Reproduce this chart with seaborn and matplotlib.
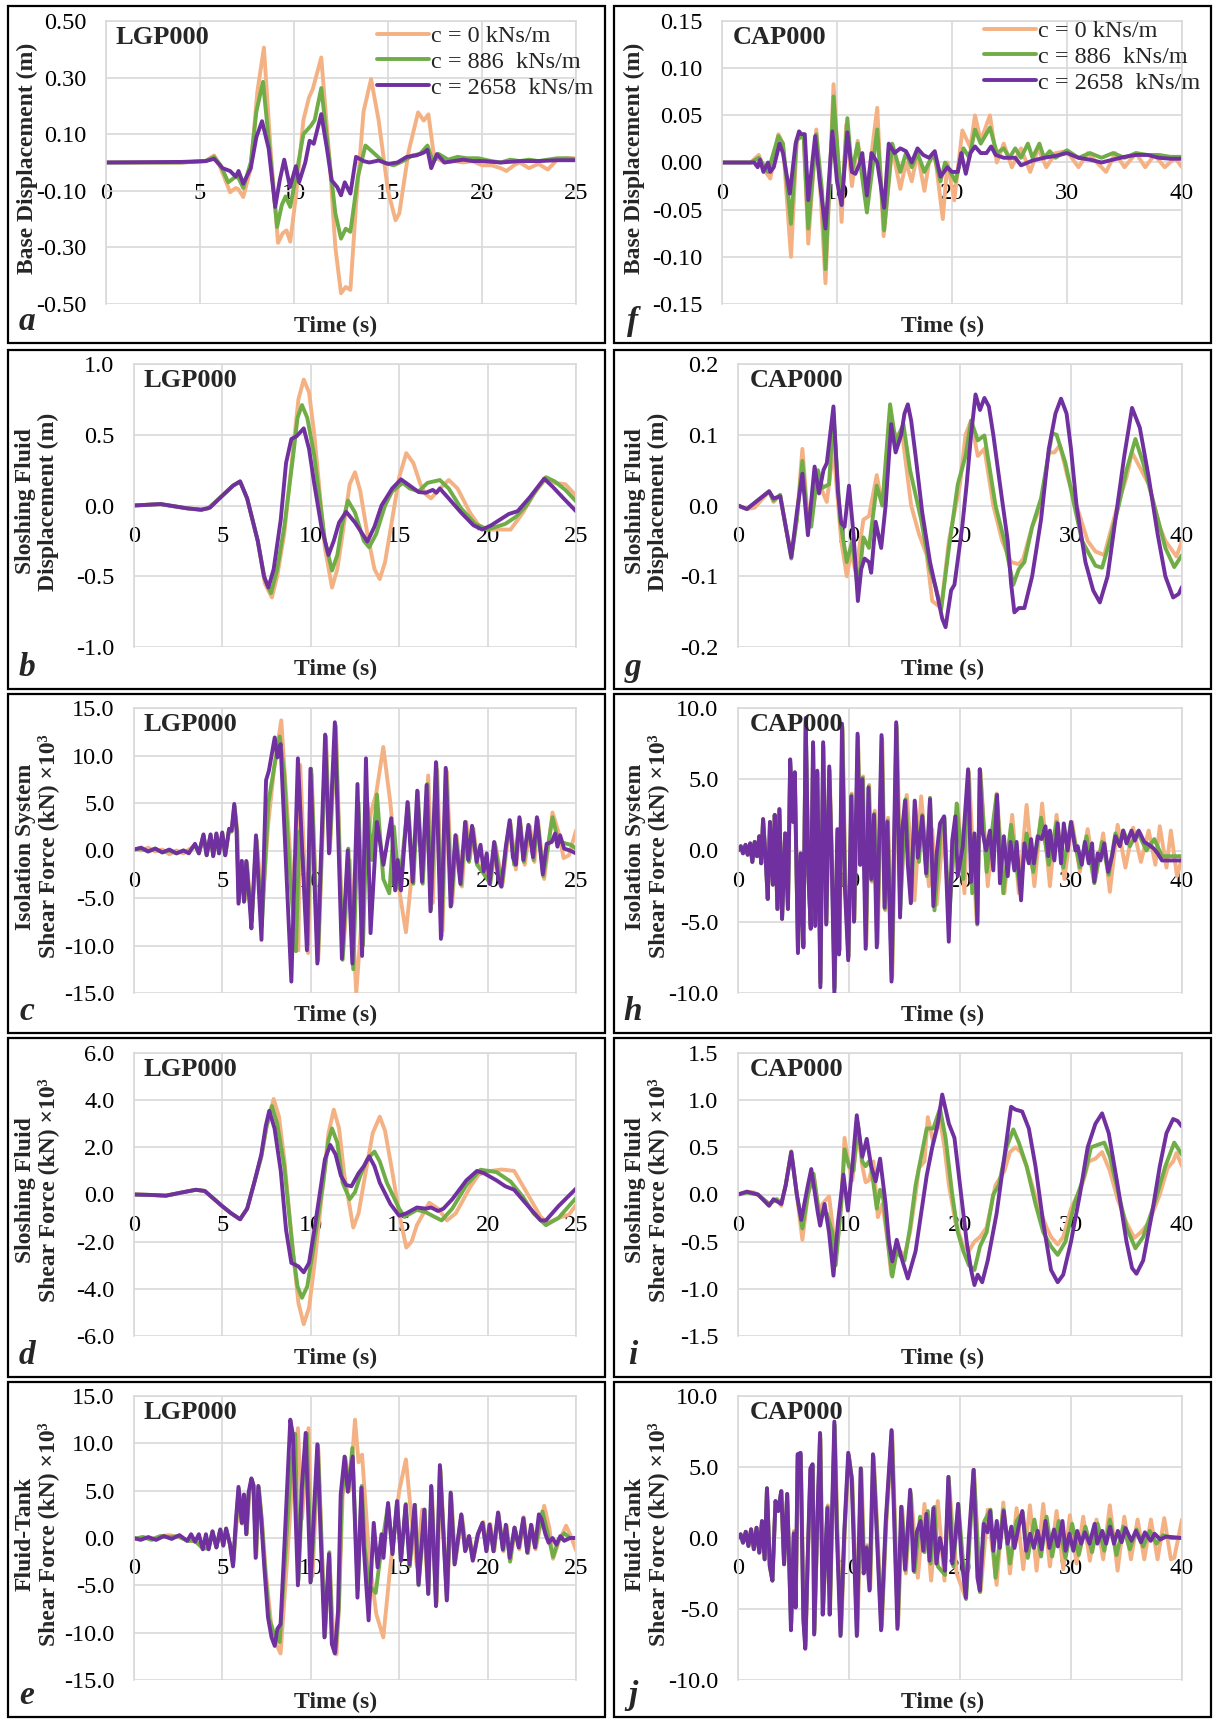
import matplotlib
matplotlib.use("Agg")
import matplotlib.pyplot as plt
import seaborn as sns
from matplotlib.patches import Rectangle
from matplotlib.ticker import FormatStrFormatter

sns.set_style("white")
plt.rcParams["font.family"] = ["Liberation Serif", "DejaVu Serif"]
plt.rcParams["axes.unicode_minus"] = False

# ---------------------------------------------------------------- data
DAMPING_LABELS = ["c = 0 kNs/m", "c = 886  kNs/m", "c = 2658  kNs/m"]
COLORS = ["#F4B183", "#70AD47", "#7030A0"]

# (a) LGP000 base displacement (m): (time s, value)
a_c0 = [(0, 0.0), (4.0, 0.0), (5.3, 0.005), (5.75, 0.025), (6.1, -0.02), (6.6, -0.105), (6.9, -0.09),
        (7.05, -0.095), (7.3, -0.122), (7.7, -0.02), (8.05, 0.25), (8.4, 0.406), (8.75, 0.05),
        (9.15, -0.284), (9.4, -0.25), (9.6, -0.24), (9.8, -0.28), (10.1, -0.12), (10.5, 0.15),
        (10.8, 0.23), (11.0, 0.26), (11.45, 0.371), (11.9, 0.0), (12.2, -0.30), (12.5, -0.462),
        (12.75, -0.44), (13.0, -0.45), (13.3, -0.15), (13.7, 0.18), (14.1, 0.295), (14.5, 0.15),
        (15.0, -0.10), (15.4, -0.204), (15.6, -0.18), (16.1, 0.04), (16.6, 0.177), (16.9, 0.148),
        (17.15, 0.17), (17.45, 0.02), (18.0, 0.0), (18.5, 0.005), (19.0, 0.0), (19.5, 0.005),
        (20.0, -0.01), (20.5, -0.01), (21.0, -0.02), (21.3, -0.03), (21.7, -0.01), (22.0, 0.0),
        (22.5, -0.02), (23.0, -0.005), (23.5, -0.025), (24.0, 0.01), (24.5, 0.015), (25.0, 0.015)]
a_c886 = [(0, 0.0), (4.0, 0.0), (5.3, 0.005), (5.75, 0.02), (6.1, -0.01), (6.5, -0.07), (6.9, -0.05),
          (7.05, -0.055), (7.3, -0.09), (7.7, 0.0), (8.0, 0.18), (8.35, 0.285), (8.7, 0.05),
          (9.1, -0.228), (9.35, -0.15), (9.55, -0.12), (9.8, -0.157), (10.1, -0.05), (10.5, 0.10),
          (10.9, 0.13), (11.1, 0.15), (11.45, 0.263), (11.9, 0.0), (12.2, -0.18), (12.5, -0.269),
          (12.75, -0.234), (13.0, -0.245), (13.4, -0.05), (13.8, 0.06), (14.3, 0.03), (14.8, 0.0),
          (15.3, -0.01), (15.8, 0.005), (16.3, 0.025), (16.7, 0.03), (17.1, 0.06), (17.4, 0.0),
          (17.7, 0.03), (18.2, 0.01), (18.7, 0.02), (19.2, 0.015), (19.8, 0.015), (20.5, 0.005),
          (21.0, 0.0), (21.5, 0.01), (22.0, 0.005), (22.5, 0.01), (23.0, 0.005), (23.5, 0.01),
          (24.0, 0.015), (24.5, 0.015), (25.0, 0.012)]
a_c2658 = [(0, 0.0), (4.0, 0.002), (5.3, 0.005), (5.75, 0.013), (6.0, -0.005), (6.2, -0.02),
           (6.6, -0.03), (6.9, -0.05), (7.05, -0.03), (7.3, -0.075), (7.7, -0.02), (8.0, 0.09),
           (8.3, 0.146), (8.65, 0.05), (9.0, -0.157), (9.25, -0.06), (9.48, 0.01), (9.79, -0.087),
           (10.1, -0.013), (10.27, -0.07), (10.6, 0.0), (10.83, 0.077), (11.05, 0.066), (11.45, 0.171),
           (11.75, 0.05), (12.0, -0.063), (12.3, -0.087), (12.5, -0.116), (12.7, -0.07), (13.0, -0.11),
           (13.3, 0.02), (13.7, 0.005), (14.0, 0.0), (14.5, 0.007), (15.0, -0.005), (15.5, 0.0),
           (16.0, 0.02), (16.5, 0.025), (16.9, 0.035), (17.1, 0.045), (17.3, -0.02), (17.6, 0.03),
           (18.0, 0.0), (18.5, 0.005), (19.0, 0.01), (19.5, 0.005), (20.0, 0.005), (21.0, 0.0),
           (22.0, 0.005), (23.0, 0.005), (24.0, 0.008), (25.0, 0.008)]

# (f) CAP000 base displacement (m)
f_c0 = [(0, 0.0), (2.5, 0.0), (3.2, 0.008), (3.8, -0.01), (4.2, -0.017), (4.9, 0.03), (5.3, 0.02),
        (6.0, -0.10), (6.5, 0.023), (7.1, 0.03), (7.5, -0.086), (8.2, 0.035), (8.6, -0.04), (9.0, -0.128),
        (9.7, 0.083), (10.4, -0.063), (10.8, 0.04), (11.3, -0.025), (11.8, 0.023), (12.5, -0.04),
        (13.5, 0.058), (14.05, -0.078), (14.8, 0.016), (15.5, -0.028), (16.0, 0.0), (16.5, -0.02),
        (17.0, 0.01), (17.6, -0.03), (18.0, 0.0), (18.5, 0.01), (19.2, -0.06), (19.6, 0.0),
        (20.2, -0.04), (20.9, 0.034), (21.6, 0.016), (22.0, 0.05), (22.5, 0.023), (23.3, 0.05),
        (23.9, 0.0), (24.5, 0.02), (25.2, -0.005), (26.0, 0.015), (26.8, -0.01), (27.5, 0.015),
        (28.2, -0.005), (29.0, 0.01), (30.0, 0.012), (31.0, -0.005), (31.8, 0.01), (32.6, 0.0),
        (33.4, -0.01), (34.2, 0.01), (35.0, -0.005), (36.0, 0.01), (36.8, -0.005), (37.6, 0.008),
        (38.5, -0.005), (39.4, 0.005), (40.0, -0.005)]
f_c886 = [(0, 0.0), (2.5, 0.0), (3.2, 0.005), (4.0, -0.01), (4.9, 0.028), (5.3, 0.02), (6.0, -0.065),
          (6.5, 0.025), (7.1, 0.028), (7.5, -0.07), (8.2, 0.03), (8.7, -0.03), (9.0, -0.113), (9.7, 0.07),
          (10.4, -0.045), (10.9, 0.047), (11.3, -0.01), (11.8, 0.02), (12.6, -0.053), (13.5, 0.035),
          (14.1, -0.072), (14.8, 0.02), (15.5, -0.01), (16.0, 0.01), (16.5, -0.005), (17.0, 0.01),
          (17.6, -0.01), (18.4, 0.01), (19.0, -0.02), (19.4, 0.0), (20.3, -0.02), (21.0, 0.015),
          (21.5, 0.005), (22.0, 0.035), (22.5, 0.02), (23.3, 0.037), (23.9, 0.01), (24.5, 0.015),
          (25.0, 0.005), (25.5, 0.015), (26.0, 0.005), (26.6, 0.02), (27.0, 0.005), (27.6, 0.02),
          (28.0, 0.005), (28.5, 0.012), (29.0, 0.005), (30.0, 0.013), (31.0, 0.005), (32.0, 0.01),
          (33.0, 0.005), (34.0, 0.01), (35.0, 0.005), (36.0, 0.01), (37.0, 0.008), (38.0, 0.008),
          (39.0, 0.006), (40.0, 0.006)]
f_c2658 = [(0, 0.0), (2.5, 0.0), (2.8, 0.0), (3.1, -0.005), (3.3, 0.003), (3.6, -0.01), (4.0, 0.0),
           (4.2, -0.01), (4.5, -0.005), (5.0, 0.02), (5.3, 0.01), (5.9, -0.033), (6.4, 0.02), (6.7, 0.033),
           (6.9, 0.03), (7.2, 0.03), (7.5, -0.04), (8.1, 0.028), (8.5, -0.02), (9.0, -0.07), (9.6, 0.033),
           (10.0, -0.02), (10.4, -0.045), (10.9, 0.032), (11.3, -0.01), (11.6, -0.012), (12.0, 0.0),
           (12.2, 0.01), (12.6, -0.035), (13.0, 0.01), (13.5, 0.0), (14.1, -0.048), (14.5, 0.02),
           (15.0, 0.01), (15.5, 0.015), (16.0, 0.012), (16.5, 0.0), (17.0, 0.015), (17.5, 0.008),
           (18.0, 0.005), (18.5, 0.012), (19.0, -0.015), (19.6, -0.005), (20.0, -0.01), (20.5, -0.01),
           (20.8, 0.01), (21.2, -0.012), (21.6, 0.01), (22.0, 0.017), (22.5, 0.01), (23.0, 0.01),
           (23.4, 0.017), (23.8, 0.008), (24.5, 0.005), (25.5, 0.005), (26.0, -0.003), (27.0, 0.002),
           (28.0, 0.005), (29.0, 0.007), (30.0, 0.01), (31.0, 0.005), (32.0, 0.003), (33.0, 0.0),
           (34.0, 0.003), (35.0, 0.006), (36.0, 0.008), (37.0, 0.008), (38.0, 0.005), (39.0, 0.004),
           (40.0, 0.004)]

# (b) LGP000 sloshing fluid displacement (m)
b_c0 = [(0, 0.0), (1.5, 0.01), (3.0, -0.02), (3.8, -0.03), (4.2, -0.02), (5.0, 0.07), (5.6, 0.14),
        (6.0, 0.17), (6.4, 0.05), (7.0, -0.25), (7.4, -0.55), (7.8, -0.65), (8.1, -0.5), (8.5, -0.2),
        (9.0, 0.4), (9.3, 0.75), (9.6, 0.89), (9.9, 0.8), (10.2, 0.5), (10.8, -0.3), (11.2, -0.58),
        (11.5, -0.45), (11.8, -0.2), (12.2, 0.15), (12.5, 0.235), (12.8, 0.1), (13.2, -0.2),
        (13.6, -0.45), (13.9, -0.52), (14.2, -0.4), (14.6, -0.1), (15.0, 0.2), (15.4, 0.37),
        (15.8, 0.3), (16.2, 0.15), (16.5, 0.08), (16.8, 0.05), (17.3, 0.12), (17.8, 0.18),
        (18.3, 0.12), (19.0, -0.05), (19.5, -0.14), (20.0, -0.17), (21.3, -0.17), (22.0, -0.05),
        (22.6, 0.08), (23.3, 0.19), (23.8, 0.16), (24.4, 0.15), (25.0, 0.07)]
b_c886 = [(0, 0.0), (1.5, 0.01), (3.0, -0.02), (3.8, -0.03), (4.2, -0.02), (5.0, 0.07), (5.6, 0.14),
          (6.0, 0.17), (6.4, 0.05), (7.0, -0.25), (7.4, -0.52), (7.75, -0.62), (8.1, -0.45), (8.5, -0.15),
          (9.0, 0.35), (9.25, 0.62), (9.5, 0.71), (9.8, 0.62), (10.2, 0.35), (10.8, -0.25), (11.2, -0.46),
          (11.5, -0.35), (11.8, -0.12), (12.1, 0.035), (12.5, -0.05), (13.0, -0.25), (13.3, -0.295),
          (13.7, -0.2), (14.2, 0.0), (14.6, 0.1), (15.2, 0.16), (15.6, 0.12), (16.1, 0.1), (16.6, 0.16),
          (17.3, 0.18), (17.8, 0.12), (18.5, -0.02), (19.3, -0.13), (20.0, -0.17), (21.0, -0.13),
          (21.6, -0.08), (22.2, 0.0), (22.8, 0.12), (23.3, 0.2), (23.8, 0.17), (24.4, 0.11), (25.0, 0.03)]
b_c2658 = [(0, 0.0), (1.5, 0.01), (3.0, -0.02), (3.8, -0.03), (4.3, -0.015), (5.0, 0.07), (5.6, 0.14),
           (6.0, 0.17), (6.4, 0.05), (7.0, -0.25), (7.35, -0.5), (7.6, -0.58), (7.9, -0.45), (8.3, -0.1),
           (8.6, 0.3), (8.9, 0.47), (9.2, 0.49), (9.6, 0.545), (9.9, 0.4), (10.2, 0.15), (10.6, -0.15),
           (11.0, -0.35), (11.3, -0.25), (11.6, -0.12), (12.0, -0.045), (12.5, -0.12), (13.2, -0.255),
           (13.6, -0.15), (14.0, 0.0), (14.6, 0.12), (15.1, 0.185), (15.6, 0.14), (16.1, 0.095),
           (16.5, 0.09), (16.9, 0.11), (17.1, 0.09), (17.3, 0.12), (17.8, 0.05), (18.5, -0.05),
           (19.2, -0.14), (19.7, -0.17), (20.2, -0.14), (20.7, -0.1), (21.2, -0.06), (21.7, -0.04),
           (22.4, 0.06), (23.2, 0.19), (23.7, 0.13), (24.3, 0.05), (25.0, -0.04)]

# (g) CAP000 sloshing fluid displacement (m)
g_c0 = [(0, 0.0), (0.8, -0.005), (1.5, -0.003), (2.8, 0.02), (3.2, 0.005), (3.8, 0.015), (4.3, -0.03),
        (4.8, -0.07), (5.3, -0.02), (5.8, 0.08), (6.2, 0.0), (6.6, -0.02), (7.2, 0.04), (7.6, 0.02),
        (8.0, 0.005), (8.6, 0.08), (9.3, -0.05), (9.8, -0.1), (10.2, -0.065), (10.6, -0.095),
        (11.3, -0.02), (11.8, -0.015), (12.5, 0.043), (13.0, 0.0), (13.7, 0.117), (14.2, 0.1),
        (14.8, 0.1), (15.6, 0.0), (16.3, -0.04), (17.0, -0.07), (17.5, -0.135), (18.3, -0.145),
        (19.0, -0.05), (19.5, -0.01), (20.0, 0.03), (20.5, 0.1), (21.0, 0.12), (21.6, 0.07),
        (22.2, 0.08), (23.0, 0.0), (23.8, -0.05), (24.6, -0.08), (25.3, -0.083), (25.7, -0.075),
        (26.5, -0.03), (27.3, 0.0), (28.0, 0.075), (28.5, 0.075), (29.0, 0.085), (29.7, 0.04),
        (30.5, 0.0), (31.5, -0.05), (32.2, -0.065), (33.0, -0.07), (33.5, -0.04), (34.2, 0.0),
        (35.0, 0.04), (35.5, 0.075), (36.0, 0.06), (37.0, 0.03), (38.0, -0.03), (38.5, -0.05),
        (39.5, -0.072), (40.0, -0.05)]
g_c886 = [(0, 0.0), (0.8, -0.005), (2.8, 0.02), (3.2, 0.007), (3.8, 0.015), (4.3, -0.03), (4.8, -0.075),
          (5.3, -0.02), (5.8, 0.063), (6.2, -0.01), (6.6, -0.03), (7.2, 0.05), (7.6, 0.025), (8.2, 0.03),
          (8.6, 0.13), (9.2, -0.02), (9.8, -0.08), (10.3, -0.05), (10.8, -0.12), (11.3, -0.045),
          (11.8, -0.06), (12.5, 0.028), (13.0, 0.0), (13.7, 0.143), (14.2, 0.09), (14.9, 0.115),
          (15.5, 0.05), (16.5, -0.02), (17.3, -0.09), (17.8, -0.115), (18.3, -0.147), (19.0, -0.06),
          (19.8, 0.03), (20.5, 0.07), (21.0, 0.12), (21.6, 0.092), (22.2, 0.099), (23.2, 0.0),
          (24.0, -0.05), (24.8, -0.112), (25.3, -0.09), (25.8, -0.08), (26.5, -0.03), (27.3, 0.01),
          (28.3, 0.102), (28.7, 0.1), (29.5, 0.06), (30.3, 0.0), (31.0, -0.05), (32.2, -0.085),
          (32.8, -0.088), (33.5, -0.05), (34.3, 0.0), (35.0, 0.05), (35.8, 0.094), (36.5, 0.06),
          (37.5, 0.0), (38.5, -0.06), (39.3, -0.087), (40.0, -0.07)]
g_c2658 = [(0, 0.0), (0.8, -0.005), (2.8, 0.02), (3.2, 0.01), (3.8, 0.013), (4.3, -0.03), (4.8, -0.073),
           (5.3, -0.01), (5.8, 0.045), (6.3, -0.042), (6.9, 0.055), (7.3, 0.017), (7.7, 0.05), (8.0, 0.06),
           (8.6, 0.14), (9.0, 0.02), (9.3, -0.025), (9.6, -0.03), (10.0, 0.028), (10.4, -0.04),
           (10.8, -0.135), (11.1, -0.09), (11.4, -0.075), (11.8, -0.08), (12.0, -0.095), (12.4, -0.023),
           (12.9, -0.06), (13.3, 0.0), (13.8, 0.115), (14.2, 0.075), (14.7, 0.1), (15.0, 0.13),
           (15.3, 0.143), (15.6, 0.12), (16.0, 0.07), (16.6, -0.01), (17.3, -0.08), (18.0, -0.13),
           (18.4, -0.16), (18.7, -0.172), (19.2, -0.12), (19.5, -0.112), (20.2, -0.03), (20.6, 0.03),
           (21.0, 0.1), (21.4, 0.157), (21.8, 0.135), (22.2, 0.152), (22.6, 0.14), (23.0, 0.1),
           (23.6, 0.03), (24.3, -0.05), (24.6, -0.11), (24.9, -0.151), (25.3, -0.145), (25.8, -0.145),
           (26.5, -0.1), (27.3, -0.02), (28.0, 0.08), (28.6, 0.13), (29.1, 0.151), (29.6, 0.13),
           (30.0, 0.08), (30.5, 0.0), (31.3, -0.08), (32.0, -0.12), (32.6, -0.137), (33.3, -0.1),
           (34.0, -0.02), (34.8, 0.07), (35.5, 0.138), (36.2, 0.11), (37.0, 0.04), (37.8, -0.04),
           (38.5, -0.1), (39.2, -0.13), (39.7, -0.125), (40.0, -0.115)]

# (c) LGP000 isolation system shear force (kN x 10^3)
c_c0 = [(0, 0.2), (0.4, 0.0), (0.8, 0.3), (1.2, -0.1), (1.6, 0.1), (2.0, -0.4), (2.4, 0.0), (2.8, -0.3),
        (3.1, 0.1), (3.45, 0.5), (3.67, -0.3), (3.93, 1.5), (4.11, -0.4), (4.33, 1.5), (4.48, -0.5),
        (4.66, 1.6), (4.81, -0.2), (4.99, 1.7), (5.16, -0.4), (5.38, 2.2), (5.52, 2.0), (5.7, 4.5),
        (5.85, 2.0), (5.95, -5.0), (6.12, -1.2), (6.26, -5.2), (6.4, -1.5), (6.57, -5.5), (6.7, -6.0),
        (6.95, 1.0), (7.25, -6.0), (7.6, 3.0), (7.95, 9.0), (8.33, 13.7), (8.6, 6.0), (9.0, -5.0),
        (9.3, -10.5), (9.4, 9.0), (9.85, -10.8), (10.05, 8.0), (10.42, -11.5), (10.86, 12.0),
        (11.08, 0.0), (11.42, 13.0), (11.82, -11.0), (12.2, -1.0), (12.57, -15.0), (13.0, -4.0),
        (13.4, 4.0), (13.7, 6.0), (14.1, 10.9), (14.5, 5.0), (14.9, -3.0), (15.38, -8.6), (15.8, -1.0),
        (16.1, 3.0), (16.35, -2.5), (16.64, 7.9), (16.9, -5.5), (17.15, 8.5), (17.45, -8.5),
        (17.7, 8.3), (18.0, -5.5), (18.25, 1.5), (18.55, -3.8), (18.8, 3.0), (19.0, -0.8), (19.2, 2.3),
        (19.45, -1.5), (19.85, -2.0), (20.2, -3.0), (20.45, 0.5), (20.85, -3.5), (21.1, 0.5),
        (21.3, 2.8), (21.6, -2.0), (21.85, 3.0), (22.1, -1.5), (22.4, 2.5), (22.65, -1.2), (22.85, 3.2),
        (23.2, -3.0), (23.67, 4.0), (24.0, 2.0), (24.3, -0.8), (24.6, -0.5), (25.0, 2.1)]
c_c886 = [(0, 0.1), (0.4, 0.2), (0.8, -0.1), (1.2, 0.2), (1.6, -0.2), (2.0, 0.0), (2.4, -0.3), (2.8, 0.0),
          (3.1, -0.2), (3.45, 0.6), (3.67, -0.3), (3.93, 1.6), (4.11, -0.5), (4.33, 1.6), (4.48, -0.5),
          (4.66, 1.7), (4.81, -0.3), (4.99, 1.8), (5.16, -0.5), (5.38, 2.2), (5.52, 2.0), (5.68, 4.7),
          (5.82, 2.0), (5.93, -5.4), (6.1, -1.1), (6.24, -5.3), (6.37, -1.2), (6.55, -5.4), (6.66, -7.5),
          (6.92, 1.3), (7.23, -8.0), (7.6, 5.0), (7.95, 9.0), (8.24, 12.0), (8.5, 8.0), (8.8, -2.0),
          (9.16, -10.6), (9.35, 2.0), (9.55, -1.0), (9.82, -10.0), (10.02, 8.6), (10.4, -11.6),
          (10.84, 12.0), (11.06, -0.2), (11.4, 13.2), (11.8, -11.5), (12.12, 0.2), (12.4, -12.5),
          (12.7, 5.0), (12.95, -10.0), (13.2, 5.0), (13.45, -1.0), (13.74, 5.9), (14.1, -3.0),
          (14.44, -4.5), (14.7, 2.5), (15.0, -4.0), (15.5, 5.0), (15.8, -3.5), (16.05, 6.2),
          (16.33, -3.5), (16.6, 7.0), (16.8, -6.2), (17.1, 9.2), (17.4, -9.0), (17.65, 8.5),
          (17.95, -5.8), (18.2, 1.6), (18.5, -3.6), (18.75, 3.0), (18.95, -1.2), (19.15, 2.4),
          (19.4, -1.5), (19.8, -2.5), (20.15, -3.5), (20.4, 0.8), (20.8, -3.8), (21.05, 0.4),
          (21.27, 3.1), (21.5, -1.5), (21.82, 3.3), (22.05, -1.2), (22.33, 2.6), (22.6, -1.0),
          (22.82, 3.3), (23.15, -2.7), (23.67, 3.5), (24.0, 1.0), (24.3, 0.8), (24.7, 0.6), (25.0, 0.2)]
c_c2658 = [(0, 0.1), (0.4, 0.3), (0.8, -0.1), (1.2, 0.2), (1.6, -0.2), (2.0, 0.1), (2.4, -0.3), (2.8, 0.0),
           (3.1, -0.3), (3.3, 0.3), (3.45, 0.7), (3.67, -0.3), (3.93, 1.7), (4.11, -0.5), (4.33, 1.7),
           (4.48, -0.6), (4.66, 1.8), (4.81, -0.3), (4.99, 1.9), (5.16, -0.5), (5.38, 2.3), (5.52, 2.1),
           (5.67, 4.9), (5.8, 2.1), (5.91, -5.6), (6.09, -1.1), (6.22, -5.4), (6.35, -1.1), (6.53, -5.3),
           (6.64, -8.2), (6.9, 1.6), (7.21, -9.4), (7.47, 7.4), (7.63, 8.4), (7.96, 11.9), (8.11, 9.8),
           (8.29, 11.2), (8.9, -13.8), (9.27, 9.7), (9.78, -10.5), (9.98, 8.6), (10.37, -11.9),
           (10.81, 12.2), (11.03, -0.3), (11.36, 13.5), (11.76, -11.4), (12.09, 0.0), (12.35, -11.9),
           (12.64, 7.0), (12.9, -11.1), (13.12, 9.7), (13.38, -8.7), (13.74, 3.0), (14.11, -1.5),
           (14.55, 3.4), (14.77, -4.2), (14.92, -1.0), (15.1, -4.2), (15.47, 5.1), (15.76, -3.3),
           (16.02, 6.3), (16.29, -3.3), (16.55, 6.9), (16.77, -6.4), (17.08, 9.3), (17.36, -9.3),
           (17.63, 8.7), (17.91, -5.9), (18.18, 1.6), (18.46, -3.5), (18.73, 3.0), (18.9, -1.0),
           (19.12, 2.6), (19.38, -1.2), (19.6, 0.6), (19.78, -2.2), (19.95, -0.3), (20.11, -3.5),
           (20.37, 0.9), (20.6, -2.9), (20.77, -3.8), (21.03, 0.4), (21.25, 3.2), (21.43, -0.7),
           (21.6, -1.5), (21.8, 3.5), (22.02, -1.0), (22.31, 2.7), (22.57, -0.7), (22.79, 3.5),
           (23.12, -2.5), (23.34, 0.7), (23.63, 0.9), (23.82, 1.8), (23.95, 0.4), (24.1, 1.6),
           (24.33, 0.2), (24.66, 0.0), (25.0, -0.3)]

# (h) CAP000 isolation system shear force (kN x 10^3); build-up common to all three cases
h_onset = [(0, 0.0), (0.25, 0.3), (0.45, -0.2), (0.68, 0.4), (0.87, -0.3), (1.1, 0.5), (1.29, -0.8),
           (1.5, 0.6), (1.71, -0.4), (1.92, 1.0), (2.09, -0.9), (2.26, 2.2), (2.5, -0.7), (2.68, -3.4),
           (2.88, 2.0), (3.14, -2.4), (3.31, 2.5), (3.55, -4.1), (3.73, 2.9), (3.97, -4.8), (4.25, 1.2),
           (4.5, -4.1)]
h_c0 = [(4.7, 6.0), (4.95, 2.2), (5.12, 5.2), (5.4, -6.8), (5.64, -0.4), (5.89, -6.5), (6.1, 8.8),
        (6.34, -1.5), (6.55, -5.2), (6.78, 7.3), (6.97, -5.0), (7.16, 5.4), (7.44, -9.2), (7.7, 7.3),
        (7.98, -5.0), (8.25, 5.6), (8.5, -1.2), (8.72, -9.5), (9.0, 1.2), (9.15, -7.0), (9.42, 8.5),
        (9.68, -2.2), (9.98, -7.4), (10.25, 4.0), (10.5, -4.8), (10.82, 7.8), (11.05, -1.0), (11.27, 5.2),
        (11.56, -6.6), (11.82, 4.6), (12.06, -2.2), (12.32, 2.8), (12.58, -6.5), (13.0, 7.7),
        (13.27, -4.2), (13.52, 2.3), (13.9, -8.8), (14.32, 8.6), (14.65, -3.0), (15.2, 3.9),
        (15.9, -3.5), (16.5, 3.8), (17.2, -2.5), (17.5, 1.5), (17.9, -3.8), (18.5, 1.5), (19.0, -4.0),
        (19.8, 3.2), (20.4, -3.0), (20.8, 5.5), (21.5, -5.0), (21.85, 5.5), (22.5, -2.5), (23.3, 4.0),
        (24.0, -3.0), (24.7, 2.5), (25.3, -3.0), (26.0, 3.2), (26.7, -2.5), (27.4, 3.3), (28.1, -2.5),
        (28.7, 2.5), (29.4, -2.0), (30.1, 2.0), (30.8, -1.5), (31.5, 1.5), (32.2, -2.0), (32.9, 1.2),
        (33.5, -2.9), (34.2, 1.8), (34.9, -1.2), (35.6, 1.6), (36.3, -0.8), (37.0, 1.4), (37.6, -1.0),
        (38.0, 1.7), (38.6, -1.2), (39.0, 1.4), (39.55, -1.8), (40.0, -0.5)]
h_c886 = [(4.7, 6.2), (4.95, 2.1), (5.12, 5.3), (5.4, -7.0), (5.64, -0.3), (5.89, -6.6), (6.1, 9.0),
          (6.34, -1.6), (6.55, -5.3), (6.77, 7.4), (6.96, -5.1), (7.15, 5.5), (7.43, -9.3), (7.68, 7.4),
          (7.96, -5.1), (8.23, 5.7), (8.47, -1.1), (8.7, -9.7), (8.97, 1.3), (9.12, -7.1), (9.4, 8.7),
          (9.65, -2.3), (9.95, -7.5), (10.22, 3.9), (10.47, -4.9), (10.8, 8.0), (11.02, -1.0),
          (11.23, 5.1), (11.53, -6.7), (11.78, 4.5), (12.03, -2.1), (12.28, 2.6), (12.54, -6.6),
          (12.96, 7.9), (13.23, -4.1), (13.48, 2.1), (13.86, -9.0), (14.28, 8.8), (14.62, -4.2),
          (15.1, 3.6), (15.6, -3.6), (15.95, 3.4), (16.3, -0.8), (16.6, 2.5), (17.0, -1.8), (17.3, 3.7),
          (17.7, -4.2), (18.3, 1.7), (18.6, 2.3), (19.0, -5.0), (19.7, 3.3), (20.3, -2.0), (20.75, 5.6),
          (21.1, -3.0), (21.3, 1.0), (21.55, -5.2), (21.8, 5.7), (22.4, -1.5), (23.3, 3.9), (23.9, -3.0),
          (24.6, 1.8), (25.4, -2.8), (26.0, 1.2), (26.6, -1.5), (27.3, 2.3), (28.0, -1.0), (28.7, 2.0),
          (29.3, -1.2), (30.0, 2.0), (30.8, -1.2), (31.4, 1.0), (32.1, -2.3), (32.8, 0.6), (33.4, -1.7),
          (34.0, 1.2), (34.4, 0.4), (34.7, 1.4), (35.3, 0.3), (36.0, 1.3), (36.8, 0.0), (37.5, 0.8),
          (38.2, -0.4), (38.6, -0.4), (40.0, -0.4)]
h_c2658 = [(4.7, 6.4), (4.95, 2.0), (5.12, 5.5), (5.4, -7.2), (5.64, -0.2), (5.89, -6.8), (6.1, 9.3),
           (6.34, -1.8), (6.55, -5.5), (6.76, 7.6), (6.95, -5.3), (7.14, 5.6), (7.42, -9.6), (7.67, 7.6),
           (7.95, -5.2), (8.22, 5.9), (8.45, -1.0), (8.68, -10.0), (8.95, 1.5), (9.1, -7.3), (9.37, 8.9),
           (9.62, -2.5), (9.93, -7.7), (10.2, 3.8), (10.45, -5.0), (10.77, 8.2), (11.0, -1.0),
           (11.2, 5.0), (11.5, -6.9), (11.75, 4.4), (12.0, -2.0), (12.25, 2.5), (12.5, -6.8),
           (12.93, 8.1), (13.2, -4.0), (13.45, 2.0), (13.83, -9.2), (14.25, 9.0), (14.6, -4.7),
           (14.8, 1.5), (15.05, 3.5), (15.3, -1.0), (15.57, -3.7), (15.92, 3.5), (16.2, -0.5),
           (16.6, 2.4), (16.95, -1.6), (17.3, 3.6), (17.6, -3.9), (17.9, -0.2), (18.2, 1.9), (18.57, 2.4),
           (18.99, -6.4), (19.3, 0.7), (19.58, 2.4), (19.8, -1.8), (20.25, 0.3), (20.73, 5.7),
           (21.0, -2.2), (21.3, 1.2), (21.57, -5.1), (21.78, 5.7), (22.0, 1.4), (22.35, 0.0), (22.7, 1.4),
           (23.0, -1.4), (23.34, 3.9), (23.6, -2.3), (23.95, 1.0), (24.3, -1.8), (24.55, 0.6),
           (24.9, -1.4), (25.1, 0.6), (25.5, -3.5), (25.8, 0.5), (26.2, -0.9), (26.4, 0.8), (26.65, -0.9),
           (27.0, 1.0), (27.35, 0.8), (27.7, 1.7), (27.95, -0.4), (28.1, 1.4), (28.5, -0.7), (28.8, 1.9),
           (29.1, -0.9), (29.35, 1.9), (29.7, 0.0), (30.0, 2.0), (30.4, 0.0), (30.6, 0.3), (30.97, -1.0),
           (31.25, 0.6), (31.6, -0.9), (31.9, 0.5), (32.1, -2.2), (32.4, -0.2), (32.65, -0.7),
           (33.0, 0.5), (33.35, -1.5), (33.7, -0.4), (34.0, 1.0), (34.4, 0.3), (34.7, 1.4), (35.0, 0.5),
           (35.45, 1.4), (35.75, 0.7), (36.1, 1.4), (36.6, 0.6), (37.2, 0.3), (37.5, 0.1), (37.8, -0.2),
           (38.2, -0.7), (38.5, -0.7), (40.0, -0.7)]

# (d) LGP000 sloshing fluid shear force (kN x 10^3)
d_c0 = [(0, 0.0), (1.0, -0.02), (1.8, -0.05), (2.8, 0.1), (3.5, 0.2), (4.0, 0.15), (5.0, -0.5),
        (5.5, -0.8), (6.0, -1.05), (6.4, -0.6), (6.8, 0.5), (7.2, 1.6), (7.5, 2.9), (7.9, 4.05),
        (8.2, 3.3), (8.5, 1.5), (9.0, -2.5), (9.3, -4.6), (9.6, -5.5), (9.9, -4.8), (10.2, -3.0),
        (10.7, 0.5), (11.0, 2.6), (11.3, 3.6), (11.6, 2.8), (11.9, 0.8), (12.4, -1.4), (12.7, -0.8),
        (13.0, 0.5), (13.5, 2.6), (13.9, 3.3), (14.2, 2.7), (14.6, 1.0), (15.0, -0.8), (15.4, -2.25),
        (15.7, -2.0), (16.0, -1.3), (16.7, -0.35), (17.2, -0.6), (17.7, -1.1), (18.2, -0.8),
        (19.0, 0.3), (19.5, 0.85), (20.2, 1.0), (20.8, 1.06), (21.5, 1.0), (22.2, 0.1), (23.0, -0.95),
        (23.4, -1.2), (24.0, -1.0), (24.6, -0.85), (25.0, -0.45)]
d_c886 = [(0, 0.0), (1.0, -0.02), (1.8, -0.05), (2.8, 0.1), (3.5, 0.2), (4.0, 0.15), (5.0, -0.5),
          (5.5, -0.8), (6.0, -1.05), (6.4, -0.6), (6.8, 0.5), (7.2, 1.6), (7.5, 2.9), (7.8, 3.75),
          (8.1, 3.0), (8.5, 1.2), (9.0, -2.5), (9.25, -3.9), (9.5, -4.38), (9.8, -3.9), (10.1, -2.5),
          (10.7, 0.5), (11.0, 2.3), (11.2, 2.8), (11.5, 2.2), (11.8, 0.5), (12.2, -0.2), (12.5, 0.1),
          (12.8, 0.8), (13.2, 1.5), (13.6, 1.82), (13.9, 1.4), (14.3, 0.5), (15.0, -0.6), (15.3, -0.95),
          (16.0, -0.65), (16.5, -0.75), (17.0, -0.95), (17.4, -1.1), (18.0, -0.6), (18.8, 0.4),
          (19.6, 1.05), (20.5, 0.95), (21.3, 0.55), (22.0, -0.1), (22.6, -0.8), (23.3, -1.3),
          (24.0, -1.0), (25.0, -0.15)]
d_c2658 = [(0, 0.0), (1.0, -0.02), (1.8, -0.05), (2.8, 0.1), (3.5, 0.2), (4.0, 0.15), (5.0, -0.5),
           (5.5, -0.8), (6.0, -1.05), (6.4, -0.6), (6.8, 0.5), (7.2, 1.7), (7.45, 2.9), (7.65, 3.55),
           (7.95, 2.8), (8.3, 1.0), (8.6, -1.5), (8.9, -2.9), (9.3, -3.05), (9.6, -3.3), (9.9, -2.9),
           (10.2, -1.5), (10.5, 0.0), (10.8, 1.5), (11.1, 2.1), (11.4, 1.7), (11.7, 0.8), (12.0, 0.4),
           (12.3, 0.35), (12.7, 0.9), (13.0, 1.2), (13.3, 1.62), (13.6, 1.2), (13.9, 0.5), (14.5, -0.4),
           (15.0, -0.9), (15.4, -0.8), (16.0, -0.55), (16.5, -0.6), (16.8, -0.55), (17.2, -0.7),
           (17.5, -0.6), (18.0, -0.2), (18.8, 0.6), (19.4, 1.0), (19.8, 0.9), (20.5, 0.6), (21.0, 0.35),
           (21.5, 0.2), (22.3, -0.5), (23.0, -1.1), (23.3, -1.1), (24.0, -0.5), (25.0, 0.25)]

# (i) CAP000 sloshing fluid shear force (kN x 10^3)
i_c0 = [(0, 0.0), (0.8, 0.03), (1.5, 0.02), (2.3, -0.05), (2.8, -0.1), (3.2, -0.06), (3.5, -0.05),
        (3.9, -0.12), (4.3, 0.1), (4.8, 0.46), (5.3, 0.0), (5.8, -0.48), (6.3, 0.0), (6.8, 0.22),
        (7.3, -0.2), (7.6, -0.1), (8.2, -0.02), (8.5, -0.3), (8.8, -0.7), (9.3, -0.1), (9.6, 0.6),
        (10.0, 0.3), (10.3, 0.15), (10.8, 0.67), (11.2, 0.3), (11.5, 0.13), (11.8, 0.15), (12.2, 0.35),
        (12.6, -0.24), (13.0, -0.1), (13.5, -0.5), (13.8, -0.85), (14.3, -0.55), (14.6, -0.6),
        (15.0, -0.65), (15.5, -0.4), (16.0, 0.0), (16.3, 0.28), (16.8, 0.35), (17.1, 0.82),
        (17.6, 0.55), (18.2, 0.8), (18.6, 0.5), (19.0, 0.1), (19.6, -0.3), (20.3, -0.55), (20.8, -0.6),
        (21.3, -0.5), (21.8, -0.45), (22.4, -0.35), (23.2, 0.1), (24.0, 0.25), (24.5, 0.45),
        (25.0, 0.5), (25.5, 0.45), (26.0, 0.3), (27.0, -0.1), (27.8, -0.35), (28.2, -0.45),
        (28.8, -0.53), (29.3, -0.45), (30.0, -0.15), (31.0, 0.1), (31.6, 0.35), (32.2, 0.38),
        (32.8, 0.45), (33.5, 0.25), (34.2, -0.05), (35.0, -0.3), (35.7, -0.46), (36.3, -0.4),
        (37.0, -0.3), (38.0, 0.0), (38.7, 0.28), (39.2, 0.35), (39.5, 0.44), (40.0, 0.3)]
i_c886 = [(0, 0.0), (0.8, 0.02), (1.8, 0.0), (2.8, -0.1), (3.5, -0.05), (3.9, -0.1), (4.3, 0.1),
          (4.8, 0.45), (5.3, 0.0), (5.8, -0.36), (6.3, 0.0), (6.8, 0.22), (7.3, -0.2), (7.6, -0.2),
          (8.0, -0.2), (8.5, -0.4), (8.8, -0.75), (9.3, -0.1), (9.6, 0.48), (10.0, 0.3), (10.4, 0.25),
          (10.8, 0.75), (11.2, 0.35), (11.5, 0.3), (11.8, 0.35), (12.0, 0.3), (12.5, -0.15),
          (12.8, 0.05), (13.1, -0.05), (13.5, -0.5), (13.9, -0.87), (14.3, -0.6), (14.6, -0.65),
          (15.0, -0.7), (15.5, -0.35), (16.0, 0.1), (16.5, 0.4), (17.0, 0.7), (17.6, 0.7), (18.2, 0.91),
          (18.7, 0.6), (19.3, 0.0), (19.8, -0.4), (20.3, -0.6), (20.8, -0.75), (21.3, -0.8),
          (21.8, -0.55), (22.4, -0.4), (23.0, 0.0), (23.5, 0.1), (24.2, 0.5), (24.8, 0.69), (25.3, 0.55),
          (26.0, 0.3), (26.8, -0.1), (27.5, -0.4), (28.2, -0.55), (28.8, -0.64), (29.5, -0.5),
          (30.3, -0.1), (31.2, 0.2), (31.8, 0.5), (32.5, 0.53), (33.0, 0.55), (33.5, 0.4), (34.3, 0.0),
          (35.0, -0.35), (35.8, -0.57), (36.5, -0.45), (37.5, -0.1), (38.5, 0.3), (39.3, 0.55),
          (40.0, 0.42)]
i_c2658 = [(0, 0.0), (0.8, 0.03), (1.8, 0.0), (2.8, -0.12), (3.2, -0.05), (3.9, -0.1), (4.3, 0.1),
           (4.8, 0.45), (5.3, 0.0), (5.7, -0.27), (6.3, 0.1), (6.6, 0.27), (7.2, -0.2), (7.4, -0.33),
           (7.8, -0.1), (8.2, -0.4), (8.6, -0.86), (9.0, -0.3), (9.5, 0.21), (9.9, -0.17), (10.3, 0.3),
           (10.7, 0.84), (11.2, 0.4), (11.6, 0.59), (12.0, 0.3), (12.4, 0.14), (12.8, 0.38),
           (13.3, -0.1), (13.6, -0.5), (13.9, -0.71), (14.3, -0.48), (14.8, -0.7), (15.3, -0.89),
           (16.0, -0.6), (16.5, -0.2), (17.0, 0.2), (17.5, 0.5), (18.0, 0.75), (18.4, 1.06), (19.0, 0.75),
           (19.5, 0.6), (20.0, 0.1), (20.6, -0.5), (21.0, -0.8), (21.3, -0.96), (21.6, -0.85),
           (22.0, -0.93), (22.5, -0.7), (23.3, -0.2), (24.0, 0.4), (24.6, 0.93), (25.0, 0.9),
           (25.6, 0.88), (26.2, 0.7), (26.8, 0.3), (27.5, -0.3), (28.2, -0.8), (28.8, -0.93),
           (29.3, -0.85), (30.0, -0.5), (30.8, 0.0), (31.5, 0.5), (32.2, 0.75), (32.8, 0.86),
           (33.4, 0.65), (34.2, 0.1), (35.0, -0.5), (35.5, -0.78), (35.9, -0.84), (36.5, -0.7),
           (37.3, -0.2), (38.0, 0.3), (38.6, 0.65), (39.2, 0.8), (39.6, 0.78), (40.0, 0.72)]

# (e) LGP000 fluid-tank shear force (kN x 10^3)
e_c0 = [(0, -0.1), (0.5, 0.1), (1.0, -0.1), (1.5, 0.2), (2.0, 0.3), (2.5, 0.1), (3.0, -0.2), (3.45, -0.3),
        (3.89, -1.0), (4.22, -1.0), (4.44, 0.6), (4.66, -0.9), (4.88, 0.8), (5.05, -0.7), (5.21, 0.9),
        (5.43, -0.6), (5.62, -2.5), (5.8, 1.5), (5.95, 5.0), (6.12, 1.5), (6.25, 4.4), (6.38, 0.5),
        (6.52, 4.6), (6.68, 6.0), (6.8, 5.3), (6.92, -1.8), (7.07, 5.2), (7.25, 1.5), (7.45, -3.5),
        (7.75, -9.0), (8.0, -11.0), (8.29, -12.2), (8.6, -4.0), (8.95, 6.0), (9.27, 11.6), (9.5, 2.0),
        (9.87, 11.6), (10.1, -4.0), (10.42, 9.5), (10.8, -10.0), (11.05, -2.0), (11.3, -11.5),
        (11.45, -12.3), (11.6, -7.0), (11.8, 4.5), (12.0, 8.0), (12.2, 5.0), (12.5, 12.5), (12.7, 8.0),
        (12.9, 8.8), (13.3, -2.0), (13.7, -8.0), (14.1, -10.5), (14.5, -3.0), (15.0, 5.0), (15.38, 8.3),
        (15.7, 2.0), (16.0, -3.0), (16.3, 3.0), (16.64, -5.5), (16.85, 5.0), (17.12, -6.8), (17.33, 7.3),
        (17.72, -6.3), (17.95, 4.5), (18.17, -2.6), (18.55, 2.3), (18.8, -1.2), (19.0, 0.0), (19.2, -2.2),
        (19.5, 0.6), (19.76, 1.7), (19.97, -1.2), (20.15, 1.5), (20.38, -1.3), (20.62, 2.6), (20.9, -1.4),
        (21.08, 1.3), (21.3, -2.3), (21.55, 1.0), (21.8, -1.2), (22.05, 2.2), (22.28, -1.6), (22.5, 1.3),
        (22.72, -1.2), (23.2, 3.4), (23.5, 1.0), (23.7, -2.2), (24.0, -0.5), (24.44, 1.3), (24.75, 0.0),
        (25.0, -1.3)]
e_c886 = [(0, -0.1), (0.5, 0.1), (1.0, -0.2), (1.5, 0.2), (2.0, 0.1), (2.5, 0.2), (3.0, -0.3), (3.45, -0.3),
          (3.89, -1.1), (4.22, -1.1), (4.44, 0.7), (4.66, -1.0), (4.88, 0.9), (5.05, -0.8), (5.21, 1.0),
          (5.43, -0.7), (5.61, -2.8), (5.78, 1.7), (5.93, 5.2), (6.1, 1.6), (6.23, 4.5), (6.36, 0.4),
          (6.5, 4.7), (6.66, 6.2), (6.77, 5.5), (6.9, -2.0), (7.05, 5.4), (7.22, 2.0), (7.4, -3.0),
          (7.65, -8.5), (7.9, -10.0), (8.24, -11.0), (8.55, -2.0), (8.9, 8.0), (9.12, 11.0), (9.3, -4.5),
          (9.52, 5.0), (9.78, 11.0), (10.02, -4.5), (10.4, 9.8), (10.8, -10.4), (11.05, -1.5),
          (11.22, -11.0), (11.4, -12.0), (11.58, -7.5), (11.75, 4.0), (11.95, 8.5), (12.12, 4.9),
          (12.35, 9.5), (12.66, -5.5), (12.88, 5.5), (13.05, -1.0), (13.3, -5.0), (13.67, -5.8),
          (14.0, -1.0), (14.37, 3.5), (14.62, -1.5), (14.88, 3.8), (15.1, -2.4), (15.38, 3.6),
          (15.6, -3.0), (15.9, 3.5), (16.1, -5.0), (16.44, 3.0), (16.65, -5.9), (16.82, 5.4),
          (17.09, -7.1), (17.31, 7.6), (17.7, -6.5), (17.92, 4.7), (18.14, -2.7), (18.52, 2.4),
          (18.75, -1.3), (18.95, 0.2), (19.17, -2.3), (19.45, 0.4), (19.72, 1.6), (19.94, -1.3),
          (20.12, 1.4), (20.35, -1.4), (20.6, 2.6), (20.88, -1.3), (21.05, 1.3), (21.27, -2.5),
          (21.53, 1.1), (21.78, -1.0), (22.03, 2.0), (22.26, -1.6), (22.47, 1.3), (22.7, -1.0),
          (23.1, 2.8), (23.4, 0.5), (23.7, -2.0), (24.0, -0.3), (24.33, 0.5), (24.66, 0.0), (25.0, 0.0)]
e_c2658 = [(0, 0.0), (0.37, -0.2), (0.81, 0.1), (1.25, -0.2), (1.69, 0.2), (2.13, -0.1), (2.57, 0.3),
           (3.01, -0.3), (3.23, 0.4), (3.45, -0.4), (3.67, 0.4), (3.89, -1.2), (4.07, 0.4), (4.22, -1.2),
           (4.44, 0.7), (4.66, -1.0), (4.88, 0.9), (5.05, -0.8), (5.21, 1.0), (5.43, -0.7), (5.6, -3.0),
           (5.76, 1.8), (5.91, 5.4), (6.09, 1.6), (6.22, 4.6), (6.35, 0.4), (6.48, 4.8), (6.64, 6.3),
           (6.75, 5.6), (6.88, -2.1), (7.03, 5.5), (7.19, 2.1), (7.36, -2.8), (7.58, -8.4), (7.78, -10.5),
           (7.96, -11.4), (8.11, -9.6), (8.29, -9.1), (8.51, -0.7), (8.84, 12.5), (8.99, 10.9),
           (9.27, -5.0), (9.49, 5.3), (9.71, 11.1), (9.98, -4.7), (10.37, 9.9), (10.77, -10.5),
           (11.03, -1.7), (11.19, -11.2), (11.36, -12.2), (11.54, -7.7), (11.69, 4.6), (11.91, 8.6),
           (12.09, 4.9), (12.37, 8.6), (12.64, -6.3), (12.86, 5.3), (13.01, -1.4), (13.27, -8.7),
           (13.56, 1.6), (13.78, -3.1), (14.0, 0.4), (14.11, -2.1), (14.37, 3.7), (14.62, -1.7),
           (14.88, 3.9), (15.1, -2.4), (15.36, 3.5), (15.58, -2.8), (15.87, 3.5), (16.09, -4.9),
           (16.42, 3.0), (16.64, -5.9), (16.81, 5.5), (17.08, -7.2), (17.3, 7.7), (17.69, -6.6),
           (17.91, 4.8), (18.13, -2.8), (18.51, 2.5), (18.73, -1.4), (18.95, 0.2), (19.16, -2.4),
           (19.45, 0.4), (19.71, 1.6), (19.93, -1.4), (20.11, 1.4), (20.33, -1.4), (20.59, 2.7),
           (20.86, -1.2), (21.03, 1.4), (21.25, -2.1), (21.52, 1.1), (21.76, -1.0), (22.02, 2.1),
           (22.24, -1.5), (22.46, 1.4), (22.68, -1.0), (22.9, 2.5), (23.05, 2.0), (23.27, 0.4),
           (23.45, -0.5), (23.67, 0.0), (23.89, -0.7), (24.11, 0.2), (24.33, -0.3), (24.66, 0.0),
           (25.0, 0.0)]

# (j) CAP000 fluid-tank shear force (kN x 10^3); build-up common to all three cases
j_onset = [(0, 0.0), (0.24, 0.26), (0.45, -0.33), (0.7, 0.44), (0.94, -0.56), (1.18, 0.61), (1.43, -0.79),
           (1.67, 0.72), (1.92, -1.03), (2.16, 1.19), (2.4, -1.5), (2.61, 3.5), (2.86, -1.96), (3.1, -3.0),
           (3.38, 2.6), (3.62, 1.9), (3.9, 3.3), (4.15, -1.85), (4.43, 3.1)]
j_c0 = [(4.63, -2.0), (4.8, -6.0), (5.05, 0.5), (5.22, -4.5), (5.4, 5.6), (5.67, 5.7), (5.92, -5.5),
        (6.1, -7.3), (6.3, -1.4), (6.55, 4.7), (6.75, 5.0), (6.9, -6.5), (7.17, 1.3), (7.43, 7.0),
        (7.67, -5.2), (7.84, -2.0), (8.1, 2.3), (8.3, -5.0), (8.47, 0.6), (8.73, 7.8), (8.95, 0.8),
        (9.3, -6.6), (9.63, 0.7), (10.0, 5.8), (10.3, 4.0), (10.77, -6.6), (11.12, 4.8), (11.4, -2.3),
        (11.63, -0.5), (11.92, -3.5), (12.23, 5.7), (12.5, 1.5), (12.96, -6.2), (13.38, 1.3),
        (13.9, 7.3), (14.43, -6.0), (14.8, 2.0), (15.12, -2.5), (15.6, 3.0), (16.2, -2.8), (16.8, 2.4),
        (17.4, -3.0), (18.0, 2.6), (18.6, -3.0), (19.0, 4.0), (19.7, -2.5), (20.5, -4.2), (21.25, 4.8),
        (21.85, -3.8), (22.5, 2.0), (23.3, -3.3), (23.9, 2.5), (24.5, -2.5), (25.1, 2.1), (25.7, -2.2),
        (26.3, 2.3), (26.9, -2.3), (27.5, 2.4), (28.1, -2.0), (28.7, 1.9), (29.3, -2.2), (29.9, 1.6),
        (30.5, -1.8), (31.1, 1.5), (31.7, -1.6), (32.3, 1.3), (32.9, -1.5), (33.5, 2.3), (34.2, -2.3),
        (34.8, 1.5), (35.4, -1.5), (36.0, 1.3), (36.6, -1.5), (37.2, 1.3), (37.8, -1.5), (38.4, 1.4),
        (39.0, -1.5), (39.3, -1.4), (40.0, 1.3)]
j_c886 = [(4.63, -2.2), (4.78, -6.3), (5.03, 0.4), (5.2, -4.7), (5.38, 5.8), (5.65, 5.9), (5.9, -5.7),
          (6.07, -7.6), (6.28, -1.5), (6.53, 4.8), (6.73, 5.1), (6.88, -6.7), (7.15, 1.2), (7.41, 7.3),
          (7.65, -5.3), (7.82, -2.2), (8.07, 2.2), (8.28, -5.3), (8.45, 0.5), (8.7, 8.0), (8.92, 0.7),
          (9.26, -6.8), (9.6, 0.6), (9.96, 5.9), (10.27, 4.1), (10.73, -6.8), (11.08, 4.9), (11.35, -2.4),
          (11.6, -0.6), (11.88, -3.6), (12.19, 5.8), (12.47, 1.4), (12.92, -6.4), (13.34, 1.2),
          (13.86, 7.5), (14.4, -6.2), (14.75, 2.2), (15.08, -2.3), (15.55, 3.2), (15.9, -2.4),
          (16.4, 1.5), (16.8, -1.0), (17.1, 1.9), (17.35, -1.8), (17.7, 2.2), (18.0, -2.0), (18.65, -2.6),
          (18.98, 4.3), (19.4, -2.0), (19.85, 2.4), (20.55, -4.3), (21.24, 4.8), (21.8, -3.8), (22.2, 1.2),
          (22.75, 2.0), (23.2, -2.8), (23.9, 2.0), (24.5, -1.8), (25.1, 1.2), (25.65, 1.8), (26.1, -1.4),
          (26.7, 1.3), (27.3, -1.3), (27.8, 1.5), (28.3, -1.3), (28.9, 1.2), (29.5, -1.4), (30.1, 1.0),
          (30.7, -1.2), (31.3, 0.8), (31.9, -1.0), (32.4, 1.0), (33.0, -0.9), (33.5, 1.3), (34.1, -1.2),
          (34.7, 0.8), (35.3, -0.8), (35.9, 0.6), (36.5, -0.6), (37.1, 0.5), (37.7, -0.4), (38.3, 0.2),
          (39.0, 0.0), (40.0, 0.0)]
j_c2658 = [(4.63, -2.3), (4.77, -6.5), (5.02, 0.3), (5.19, -4.9), (5.37, 5.9), (5.64, 6.0), (5.89, -5.8),
           (6.06, -7.8), (6.27, -1.6), (6.52, 4.9), (6.72, 5.2), (6.86, -6.8), (7.14, 1.2), (7.39, 7.4),
           (7.63, -5.4), (7.8, -2.3), (8.05, 2.1), (8.26, -5.4), (8.43, 0.5), (8.68, 8.2), (8.89, 0.7),
           (9.23, -6.9), (9.58, 0.5), (9.93, 6.0), (10.24, 4.2), (10.7, -6.9), (11.05, 4.9), (11.32, -2.5),
           (11.57, -0.7), (11.85, -3.7), (12.16, 5.9), (12.44, 1.4), (12.89, -6.5), (13.31, 1.2),
           (13.83, 7.6), (14.36, -6.4), (14.7, 2.2), (15.05, -2.2), (15.51, 3.4), (15.82, -2.3),
           (16.1, 0.4), (16.45, 1.2), (16.69, -0.9), (16.97, 1.7), (17.25, -1.6), (17.6, 2.1),
           (17.87, -1.8), (18.19, 0.0), (18.43, -0.9), (18.64, -2.3), (18.95, 4.3), (19.3, -1.8),
           (19.58, 0.0), (19.83, 2.4), (20.1, -1.1), (20.52, -4.2), (20.8, 0.0), (21.22, 4.8),
           (21.57, -2.8), (21.78, -3.7), (22.13, 1.0), (22.47, 0.4), (22.72, 1.9), (23.0, -0.9),
           (23.31, 1.2), (23.59, -0.7), (23.94, 1.9), (24.29, -0.4), (24.63, 0.8), (24.91, -0.7),
           (25.26, 0.7), (25.61, 1.9), (25.96, -0.9), (26.31, 0.3), (26.66, -0.7), (27.0, 0.5),
           (27.35, -0.8), (27.7, 1.2), (28.05, -0.7), (28.47, 0.6), (28.82, -0.6), (29.23, 1.2),
           (29.51, -0.9), (29.86, 0.3), (30.21, -0.9), (30.56, 0.5), (30.91, -0.4), (31.25, 0.4),
           (31.67, -0.4), (32.13, 1.0), (32.37, -0.4), (32.82, 0.5), (33.17, -0.4), (33.52, 0.8),
           (33.87, -0.4), (34.22, 0.5), (34.56, -0.3), (34.91, 0.7), (35.44, -0.2), (35.85, 0.5),
           (36.31, -0.3), (36.66, 0.4), (37.18, -0.2), (37.53, 0.3), (38.05, -0.1), (38.57, 0.1),
           (40.0, 0.0)]

RECORDS = ["LGP000", "CAP000"]
Y_LABELS = ["Base Displacement (m)",
            "Sloshing Fluid\nDisplacement (m)",
            "Isolation System\nShear Force (kN) \u00d710\u00b3",
            "Sloshing Fluid\nShear Force (kN) \u00d710\u00b3",
            "Fluid-Tank\nShear Force (kN) \u00d710\u00b3"]
LETTERS = [["a", "f"], ["b", "g"], ["c", "h"], ["d", "i"], ["e", "j"]]

# panel table: (row, col) -> series, y limits, y step, tick format
PANELS = {
    (0, 0): ([a_c0, a_c886, a_c2658], (-0.5, 0.5), 0.2, "%.2f"),
    (0, 1): ([f_c0, f_c886, f_c2658], (-0.15, 0.15), 0.05, "%.2f"),
    (1, 0): ([b_c0, b_c886, b_c2658], (-1.0, 1.0), 0.5, "%.1f"),
    (1, 1): ([g_c0, g_c886, g_c2658], (-0.2, 0.2), 0.1, "%.1f"),
    (2, 0): ([c_c0, c_c886, c_c2658], (-15.0, 15.0), 5.0, "%.1f"),
    (2, 1): ([h_onset + h_c0, h_onset + h_c886, h_onset + h_c2658], (-10.0, 10.0), 5.0, "%.1f"),
    (3, 0): ([d_c0, d_c886, d_c2658], (-6.0, 6.0), 2.0, "%.1f"),
    (3, 1): ([i_c0, i_c886, i_c2658], (-1.5, 1.5), 0.5, "%.1f"),
    (4, 0): ([e_c0, e_c886, e_c2658], (-15.0, 15.0), 5.0, "%.1f"),
    (4, 1): ([j_onset + j_c0, j_onset + j_c886, j_onset + j_c2658], (-10.0, 10.0), 5.0, "%.1f"),
}
X_MAX = [25, 40]
X_STEP = [5, 10]

# ---------------------------------------------------------------- layout (pixels)
W, H = 1213, 1720
ROW_Y = [(21, 304), (364, 647), (708, 993), (1053, 1336), (1396, 1680)]
BOX_Y = [(6, 343), (350, 689), (694, 1033), (1038, 1377), (1382, 1717)]
BOX_X = [(8, 605), (614, 1211)]
PLOT_X = [[(106, 576), (134, 576)], [(722, 1182), (738, 1182)]]
YLAB_X = [[27, 37], [634, 647]]
XLAB_X = [336, 943]
LETTER_X = [27, 633]
REC_X = [[115, 144], [733, 750]]

GRID = "#D9D9D9"
FS_TICK = 17.5
FS_LABEL = 17
LW = 2.8

fig = plt.figure(figsize=(W / 100, H / 100), dpi=100)


def fx(px):
    return px / W


def fy(py):
    return 1 - py / H


for (row, col), (series, ylim, ystep, yfmt) in PANELS.items():
    x0, x1 = PLOT_X[col][0 if row == 0 else 1]
    y0, y1 = ROW_Y[row]
    ax = fig.add_axes([fx(x0), fy(y1), (x1 - x0) / W, (y1 - y0) / H])

    for pts, color, label in zip(series, COLORS, DAMPING_LABELS):
        t = [p[0] for p in pts]
        v = [p[1] for p in pts]
        sns.lineplot(x=t, y=v, ax=ax, color=color, linewidth=LW, sort=False,
                     estimator=None, label=label, legend=False)

    xmax = X_MAX[col]
    ax.set_xlim(0, xmax)
    ax.set_ylim(*ylim)
    n = int(round((ylim[1] - ylim[0]) / ystep))
    ax.set_yticks([ylim[0] + k * ystep for k in range(n + 1)])
    ax.set_xticks(list(range(0, xmax + 1, X_STEP[col])))
    ax.yaxis.set_major_formatter(FormatStrFormatter(yfmt))
    ax.xaxis.set_major_formatter(FormatStrFormatter("%d"))
    ax.set_xlabel("")
    ax.set_ylabel("")

    ax.set_axisbelow(True)
    ax.grid(True, color=GRID, linewidth=1.2)
    for side in ("left", "right", "top"):
        ax.spines[side].set_color(GRID)
        ax.spines[side].set_linewidth(1.2)
    ax.spines["bottom"].set_position(("data", 0))
    ax.spines["bottom"].set_visible(False)
    ax.tick_params(axis="both", length=0, labelsize=FS_TICK, colors="black")
    ax.tick_params(axis="x", pad=14.5)
    ax.tick_params(axis="y", pad=14)

    # record name inside the plot area
    fig.text(fx(REC_X[col][0 if row == 0 else 1]), fy(y0 + 5), RECORDS[col],
             fontsize=19, fontweight="bold", ha="left", va="top")

    # axis titles
    yl_x = YLAB_X[col][0 if row == 0 else 1]
    fig.text(fx(yl_x), fy((y0 + y1) / 2 - 4), Y_LABELS[row], rotation=90,
             fontsize=FS_LABEL, fontweight="bold", ha="center", va="center",
             linespacing=1.08, multialignment="center")
    fig.text(fx(XLAB_X[col]), fy(y1 + 22), "Time (s)", fontsize=FS_LABEL,
             fontweight="bold", ha="center", va="center")

    # panel letter
    fig.text(fx(LETTER_X[col]), fy(BOX_Y[row][1] - 13), LETTERS[row][col],
             fontsize=24, fontweight="bold", fontstyle="italic", ha="center", va="baseline")

    # legend on the top row
    if row == 0:
        leg_x = 377 if col == 0 else 984
        leg_y = 25 if col == 0 else 20
        ax.legend(handles=ax.lines[:3], labels=DAMPING_LABELS, loc="upper left",
                  bbox_to_anchor=(fx(leg_x), fy(leg_y)), bbox_transform=fig.transFigure,
                  frameon=False, fontsize=FS_TICK, handlelength=2.15, handletextpad=0.08,
                  labelspacing=0.16, borderpad=0, borderaxespad=0)

    # panel frame
    bx0, bx1 = BOX_X[col]
    by0, by1 = BOX_Y[row]
    fig.add_artist(Rectangle((fx(bx0), fy(by1)), (bx1 - bx0) / W, (by1 - by0) / H,
                             transform=fig.transFigure, fill=False, edgecolor="black",
                             linewidth=1.6))

fig.savefig("out.png", dpi=100)
